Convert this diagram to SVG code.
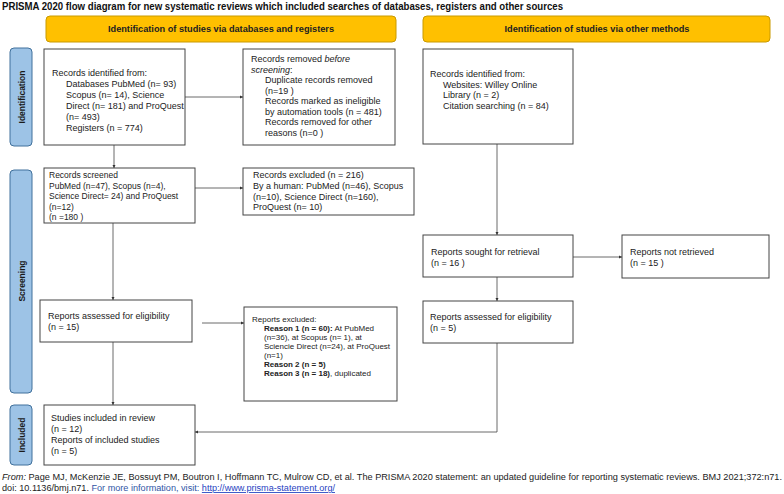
<svg xmlns="http://www.w3.org/2000/svg" width="784" height="494" viewBox="0 0 784 494">
<defs>
<marker id="ah" viewBox="0 0 6 6" refX="6" refY="3" markerWidth="4" markerHeight="4" orient="auto">
<path d="M0,0 L6,3 L0,6 z" fill="#333"/>
</marker>
<style>
.box{fill:#fff;stroke:#444;stroke-width:1}
.t{font-family:"Liberation Sans",Arial,sans-serif;font-size:9px;fill:#222}
.s{font-size:8px}
.m{font-size:8.5px}
.b{font-weight:bold}
.hdr{fill:#FFC000;stroke:#C99A00;stroke-width:1}
.ht{font-family:"Liberation Sans",Arial,sans-serif;font-size:9px;font-weight:bold;fill:#222}
.side{fill:#9DC3E6;stroke:#41719C;stroke-width:1}
.st{font-family:"Liberation Sans",Arial,sans-serif;font-size:8.5px;font-weight:bold;fill:#1a1a1a}
.conn line,.conn path{stroke:#444;stroke-width:0.8;fill:none;marker-end:url(#ah)}
.ft{font-family:"Liberation Sans",Arial,sans-serif;font-size:8.5px;fill:#222}
</style>
</defs>
<rect width="784" height="494" fill="#fff"/>
<text x="2" y="10" font-family="Liberation Sans,Arial,sans-serif" font-size="10" font-weight="bold" fill="#111" textLength="561" lengthAdjust="spacingAndGlyphs">PRISMA 2020 flow diagram for new systematic reviews which included searches of databases, registers and other sources</text>

<g id="hdr-left"><rect class="hdr" x="46" y="16" width="350" height="26" rx="4"/><text class="ht" x="221" y="32" text-anchor="middle" textLength="226" lengthAdjust="spacingAndGlyphs">Identification of studies via databases and registers</text></g>
<g id="hdr-right"><rect class="hdr" x="423" y="16" width="347" height="26" rx="4"/><text class="ht" x="597" y="32" text-anchor="middle" textLength="185" lengthAdjust="spacingAndGlyphs">Identification of studies via other methods</text></g>

<g id="side-identification"><rect class="side" x="10" y="48" width="22" height="98" rx="4"/><text class="st" transform="translate(24.5,97) rotate(-90)" text-anchor="middle">Identification</text></g>
<g id="side-screening"><rect class="side" x="10" y="170" width="22" height="223" rx="4"/><text class="st" transform="translate(24.5,281) rotate(-90)" text-anchor="middle">Screening</text></g>
<g id="side-included"><rect class="side" x="10" y="405" width="22" height="60" rx="4"/><text class="st" transform="translate(24.5,435) rotate(-90)" text-anchor="middle">Included</text></g>

<g id="records-identified"><rect class="box" x="44" y="49" width="141" height="96"/>
<text class="t" x="52" y="76">Records identified from:</text>
<text class="t" x="66" y="87">Databases PubMed (n= 93)</text>
<text class="t" x="66" y="98">Scopus (n= 14), Science</text>
<text class="t" x="66" y="109">Direct (n= 181) and ProQuest</text>
<text class="t" x="66" y="120">(n= 493)</text>
<text class="t" x="66" y="131">Registers (n = 774)</text></g>

<g id="records-removed"><rect class="box" x="243" y="49" width="152" height="96"/>
<text class="t" x="251" y="62">Records removed <tspan font-style="italic">before</tspan></text>
<text class="t" x="251" y="72.5" font-style="italic">screening<tspan font-style="normal">:</tspan></text>
<text class="t" x="265" y="83">Duplicate records removed</text>
<text class="t" x="265" y="93.5">(n=19 )</text>
<text class="t" x="265" y="104">Records marked as ineligible</text>
<text class="t" x="265" y="114.5">by automation tools (n = 481)</text>
<text class="t" x="265" y="125">Records removed for other</text>
<text class="t" x="265" y="135.5">reasons (n=0 )</text></g>

<g id="records-other"><rect class="box" x="423" y="49" width="150" height="95"/>
<text class="t" x="430" y="77">Records identified from:</text>
<text class="t" x="443" y="87.5">Websites: Willey Online</text>
<text class="t" x="443" y="98">Library (n = 2)</text>
<text class="t" x="443" y="108.5">Citation searching (n = 84)</text></g>

<g id="records-screened"><rect class="box" x="44" y="168" width="151" height="55"/>
<text class="t m" x="49" y="178">Records screened</text>
<text class="t m" x="49" y="188.5">PubMed (n=47), Scopus (n=4),</text>
<text class="t m" x="49" y="199">Science Direct= 24) and ProQuest</text>
<text class="t m" x="49" y="209.5">(n=12)</text>
<text class="t m" x="49" y="220">(n =180 )</text></g>

<g id="records-excluded"><rect class="box" x="243" y="168" width="171" height="47"/>
<text class="t" x="253" y="178">Records excluded (n = 216)</text>
<text class="t" x="253" y="189">By a human: PubMed (n=46), Scopus</text>
<text class="t" x="253" y="199.5">(n=10), Science Direct (n=160),</text>
<text class="t" x="253" y="210">ProQuest (n= 10)</text></g>

<g id="reports-sought"><rect class="box" x="423" y="235" width="150" height="42"/>
<text class="t" x="431" y="255">Reports sought for retrieval</text>
<text class="t" x="431" y="266">(n = 16 )</text></g>

<g id="reports-not-retrieved"><rect class="box" x="622" y="235" width="147" height="43"/>
<text class="t" x="630" y="255">Reports not retrieved</text>
<text class="t" x="630" y="266">(n = 15 )</text></g>

<g id="reports-assessed-other"><rect class="box" x="423" y="301" width="150" height="42"/>
<text class="t" x="430" y="320">Reports assessed for eligibility</text>
<text class="t" x="430" y="331">(n = 5)</text></g>

<g id="reports-assessed"><rect class="box" x="40" y="300" width="152" height="42"/>
<text class="t" x="48" y="319">Reports assessed for eligibility</text>
<text class="t" x="48" y="330">(n = 15)</text></g>

<g id="reports-excluded"><rect class="box" x="244" y="307" width="153" height="94"/>
<text class="t s" x="252" y="322">Reports excluded:</text>
<text class="t s" x="264" y="331"><tspan class="b">Reason 1 (n = 60):</tspan> At PubMed</text>
<text class="t s" x="264" y="340">(n=36), at Scopus (n= 1), at</text>
<text class="t s" x="264" y="349">Sciencie Direct (n=24), at ProQuest</text>
<text class="t s" x="264" y="358">(n=1)</text>
<text class="t s b" x="264" y="367">Reason 2 (n = 5)</text>
<text class="t s" x="264" y="376"><tspan class="b">Reason 3 (n = 18)</tspan>, duplicated</text></g>

<g id="studies-included"><rect class="box" x="44" y="405" width="151" height="60"/>
<text class="t" x="51" y="421">Studies included in review</text>
<text class="t" x="51" y="432">(n = 12)</text>
<text class="t" x="51" y="443">Reports of included studies</text>
<text class="t" x="51" y="454">(n = 5)</text></g>

<g class="conn" id="connectors">
<line x1="114" y1="145" x2="114" y2="168"/>
<line x1="185" y1="97" x2="243" y2="97"/>
<line x1="113" y1="223" x2="113" y2="300"/>
<line x1="195" y1="188" x2="243" y2="188"/>
<line x1="497" y1="144" x2="497" y2="235"/>
<line x1="573" y1="257" x2="622" y2="257"/>
<line x1="497" y1="277" x2="497" y2="301"/>
<line x1="202" y1="323" x2="244" y2="323"/>
<line x1="113" y1="342" x2="113" y2="405"/>
<path d="M497,343 V432 H195"/>
</g>

<text class="ft" x="2" y="480" textLength="780" lengthAdjust="spacingAndGlyphs"><tspan font-style="italic">From:</tspan>  Page MJ, McKenzie JE, Bossuyt PM, Boutron I, Hoffmann TC, Mulrow CD, et al. The PRISMA 2020 statement: an updated guideline for reporting systematic reviews. BMJ 2021;372:n71.</text>
<text class="ft" x="2" y="491" textLength="333" lengthAdjust="spacingAndGlyphs">doi: 10.1136/bmj.n71. <tspan fill="#2F54A5">For more information, visit: </tspan><tspan fill="#1F3FBF" text-decoration="underline">http://www.prisma-statement.org/</tspan></text>
</svg>
